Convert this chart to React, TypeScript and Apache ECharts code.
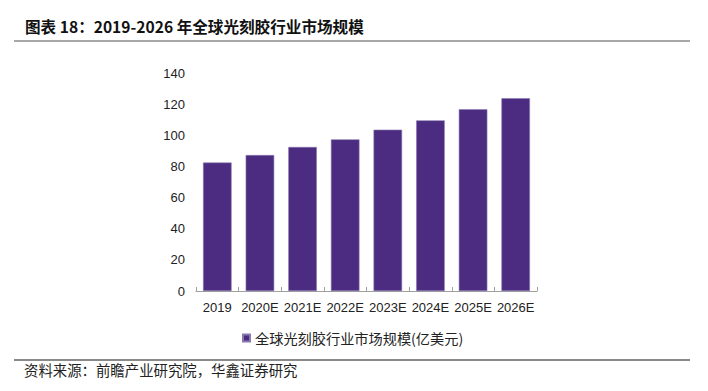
import React, { useEffect, useRef } from "react";
import * as echarts from "echarts";

const categories = ["2019", "2020E", "2021E", "2022E", "2023E", "2024E", "2025E", "2026E"];
const marketSize = [82.5, 87.3, 92.5, 97.4, 103.6, 109.6, 116.7, 123.8];
const seriesName = "全球光刻胶行业市场规模(亿美元)";
const titleText = "图表 18：2019-2026 年全球光刻胶行业市场规模";
const sourceText = "资料来源：前瞻产业研究院，华鑫证券研究";

export default function App() {
  const ref = useRef<HTMLDivElement>(null);
  useEffect(() => {
    if (!ref.current) return;
    const chart = echarts.init(ref.current, null, { renderer: "svg" });
    const cjk = '"Noto Sans CJK SC", sans-serif';
    const latin = '"Liberation Sans", Arial, sans-serif';
    chart.setOption({
      animation: false,
      backgroundColor: "#ffffff",
      grid: { left: 196, right: 171, top: 73, bottom: 100 },
      legend: {
        data: [seriesName],
        left: 237,
        top: 326,
        icon: "rect",
        itemWidth: 7,
        itemHeight: 7,
        itemGap: 4,
        textStyle: { fontFamily: cjk, fontSize: 14.2, color: "#222" },
      },
      xAxis: {
        type: "category",
        data: categories,
        axisLine: { show: true, lineStyle: { color: "#a0a0a0", width: 1 } },
        axisTick: { show: true, inside: true, length: 4, lineStyle: { color: "#a0a0a0" } },
        axisLabel: { interval: 0, fontFamily: latin, fontSize: 13, color: "#222", margin: 10 },
      },
      yAxis: {
        type: "value",
        min: 0,
        max: 140,
        interval: 20,
        axisLine: { show: false },
        axisTick: { show: false },
        splitLine: { show: false },
        axisLabel: { fontFamily: latin, fontSize: 13, color: "#222", margin: 11 },
      },
      series: [
        {
          name: seriesName,
          type: "bar",
          data: marketSize,
          barCategoryGap: "33%",
          itemStyle: { color: "#4b2c80", borderColor: "#8a78b0", borderWidth: 0.6 },
        },
      ],
      graphic: [
        {
          type: "text",
          left: 25,
          top: 18,
          style: { text: titleText, font: `bold 15.6px ${cjk}`, fill: "#111" },
        },
        {
          type: "rect",
          shape: { x: 14, y: 40, width: 676, height: 2 },
          style: { fill: "#a8a8a8" },
        },
        {
          type: "rect",
          shape: { x: 14, y: 359, width: 676, height: 2 },
          style: { fill: "#8a8a8a" },
        },
        {
          type: "text",
          left: 24,
          top: 362,
          style: { text: sourceText, font: `14.4px ${cjk}`, fill: "#222" },
        },
      ],
    });
    return () => chart.dispose();
  }, []);
  return <div ref={ref} style={{ width: 708, height: 391, margin: -8 }} />;
}
